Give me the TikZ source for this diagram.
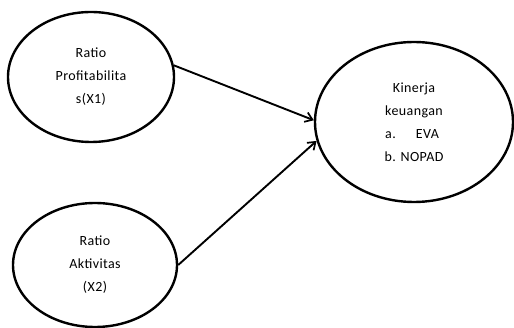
\documentclass[tikz,border=0pt]{standalone}
\usepackage{fontspec}
\setmainfont{Carlito}[LetterSpace=3]
\usetikzlibrary{shapes.geometric,arrows.meta}
\begin{document}
\begin{tikzpicture}[x=1pt,y=-1pt,
  oval/.style={draw=black,line width=2.4pt,ellipse,inner sep=0pt,align=center,
    font=\fontsize{14}{23}\selectfont},
  conn/.style={draw=black,line width=1.9pt,-{Straight Barb[length=7pt,width=10pt,line width=1.7pt]}}]
\useasboundingbox (0,0) rectangle (514,328);
\node[oval,minimum width=166pt,minimum height=130pt] (e1) at (91,77) {Ratio\\Profitabilita\\s(X1)};
\node[oval,minimum width=164pt,minimum height=124pt] (e2) at (95,265) {Ratio\\Aktivitas\\(X2)};
\node[oval,minimum width=198pt,minimum height=160pt] (e3) at (414,122) {Kinerja\\keuangan\\\hspace*{-4pt}a.\hspace{20pt}EVA\\b. NOPAD};
\draw[conn] (e1.8) -- (e3.179);
\draw[conn] (e2.0) -- (e3.191);
\end{tikzpicture}
\end{document}
